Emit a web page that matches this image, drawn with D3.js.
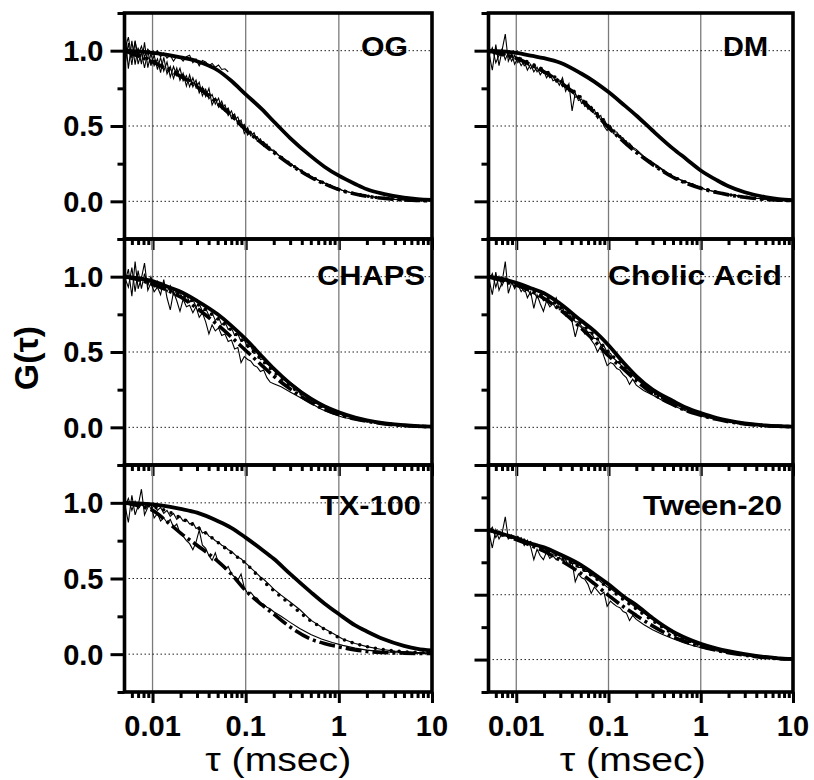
<!DOCTYPE html>
<html><head><meta charset="utf-8">
<script src="https://cdn.jsdelivr.net/npm/d3@7"></script>
<style>body{margin:0;background:#fff} svg{display:block;font-family:"Liberation Sans",Arial,sans-serif}</style>
</head><body><svg id="c" width="814" height="780"></svg>
<script>
// ---------------- data ----------------
const panelNames = ["OG", "DM", "CHAPS", "Cholic Acid", "TX-100", "Tween-20"];
const xMajor = [0.01, 0.1, 1, 10];
const xTickLabels = ["0.01", "0.1", "1", "10"];
const xMinor = [0.006,0.007,0.008,0.009, 0.02,0.03,0.04,0.05,0.06,0.07,0.08,0.09,
                0.2,0.3,0.4,0.5,0.6,0.7,0.8,0.9, 2,3,4,5,6,7,8,9];
const yMajorVals = [0, 0.5, 1.0];
const yTickLabels = ["0.0", "0.5", "1.0"];
const yMinorVals = [-0.25, 0.25, 0.75, 1.25];
const xTitle = "τ (msec)";
const yTitle = "G(τ)";

const tauFit = [0.005,0.007,0.01,0.015,0.02,0.03,0.05,0.07,0.1,0.15,0.2,0.3,0.5,0.7,1,1.5,2,3,5,7,10];
const tauRaw = [
 0.0050,0.0055,0.0060,0.0065,0.0070,0.0076,0.0082,0.0089,0.0096,0.0104,
 0.0113,0.0122,0.0132,0.0143,0.0155,0.0168,0.0182,0.0197,0.0213,0.0231,
 0.0250,0.0271,0.0293,0.0317,0.0343,0.0372,0.0403,0.0436,0.0472,0.0511,
 0.0553,0.0599,0.0649,0.0703,0.0761,0.0824,0.0892,0.0966,0.105,0.113,
 0.123,0.133,0.144,0.156,0.169,0.183,0.20,0.24,0.30,0.38,
 0.5,0.65,0.85,1.1,1.5,2.0,2.8,4.0,6.0,10];

// OG
const ogA = [1.0,0.995,0.985,0.97,0.955,0.93,0.87,0.80,0.71,0.61,0.53,0.42,0.30,0.23,0.17,0.115,0.08,0.05,0.025,0.015,0.01];
const ogB = [1.0,0.97,0.935,0.88,0.84,0.77,0.66,0.58,0.48,0.39,0.33,0.25,0.165,0.12,0.08,0.05,0.035,0.02,0.01,0.006,0.004];
const ogC = [1.0,0.965,0.925,0.87,0.83,0.76,0.65,0.57,0.475,0.385,0.325,0.245,0.16,0.117,0.078,0.049,0.034,0.02,0.01,0.006,0.004];
const ogRawA = [
 1.0,1.09,0.95,1.06,0.97,1.03,0.96,1.01,0.98,0.97,
 1.0,0.96,0.985,0.95,0.97,0.93,0.965,0.955,0.93,0.96,
 0.97,0.92,0.945,0.90,0.935,0.925,0.90,0.915,0.89,0.905,
 0.875,0.88,0.86];
const ogRawB = [
 0.88,1.05,0.905,1.067,0.91,0.99,0.885,0.997,0.90,0.97,
 0.875,0.955,0.865,0.925,0.825,0.895,0.835,0.883,0.80,0.835,
 0.76,0.82,0.755,0.79,0.70,0.745,0.68,0.71,0.645,0.685,
 0.615,0.64,0.57,0.60,0.54,0.56,0.495,0.51,0.44,0.465,
 0.425,0.43,0.39,0.395,0.37,0.35,0.33,0.29,0.25,0.21,
 0.165,0.13,0.10,0.072,0.05,0.035,0.022,0.013,0.008,0.004];
const ogRawC = [
 1.16,0.88,1.065,0.907,1.02,0.91,1.055,0.887,0.98,0.90,
 0.945,0.855,0.955,0.845,0.895,0.815,0.885,0.803,0.85,0.765,
 0.84,0.76,0.805,0.72,0.76,0.695,0.75,0.64,0.685,0.625,
 0.665,0.60,0.62,0.55,0.58,0.51,0.54,0.45,0.49,0.435,
 0.455,0.40,0.415,0.365,0.38,0.34,0.34,0.29,0.25,0.21,
 0.165,0.13,0.10,0.072,0.05,0.035,0.022,0.013,0.008,0.004];

// DM
const dmA = [1.0,0.995,0.985,0.965,0.95,0.92,0.85,0.795,0.725,0.635,0.57,0.47,0.35,0.28,0.205,0.14,0.10,0.06,0.028,0.015,0.007];
const dmB = [1.0,0.98,0.955,0.91,0.87,0.80,0.69,0.60,0.50,0.40,0.33,0.25,0.165,0.125,0.09,0.06,0.045,0.028,0.014,0.008,0.005];
const dmC = [1.0,0.975,0.95,0.90,0.86,0.79,0.68,0.59,0.49,0.39,0.325,0.245,0.16,0.12,0.087,0.058,0.043,0.027,0.013,0.008,0.005];
const dmRawB = [
 0.96,1.02,0.92,0.97,1.01,0.94,0.99,0.93,0.97,0.92,
 0.95,0.90,0.92,0.88,0.91,0.86,0.89,0.85,0.86,0.82,
 0.83,0.79,0.80,0.76,0.77,0.73,0.74,0.69,0.70,0.65,
 0.66,0.61,0.63,0.58,0.59,0.54,0.55,0.50,0.50,0.46,
 0.46,0.43,0.42,0.39,0.385,0.36,0.345,0.30,0.26,0.215,
 0.165,0.135,0.11,0.08,0.06,0.045,0.032,0.02,0.01,0.005];
const dmRawC = [
 1.0,0.87,1.04,0.90,1.0,1.11,0.93,0.98,0.91,0.95,
 0.90,0.93,0.87,0.91,0.86,0.89,0.84,0.87,0.82,0.85,
 0.80,0.81,0.77,0.82,0.73,0.78,0.60,0.72,0.67,0.68,
 0.63,0.64,0.60,0.61,0.55,0.57,0.50,0.47,0.50,0.45,
 0.44,0.42,0.41,0.37,0.375,0.35,0.335,0.295,0.255,0.21,
 0.163,0.133,0.108,0.08,0.06,0.045,0.032,0.02,0.01,0.005];

// CHAPS
const chA = [1.0,0.99,0.97,0.93,0.90,0.84,0.75,0.675,0.585,0.47,0.39,0.29,0.19,0.14,0.10,0.065,0.047,0.028,0.014,0.008,0.005];
const chB = [1.0,0.985,0.96,0.92,0.885,0.82,0.72,0.645,0.555,0.445,0.37,0.275,0.18,0.13,0.09,0.06,0.043,0.026,0.013,0.008,0.005];
const chC = [1.0,0.98,0.95,0.905,0.865,0.79,0.68,0.60,0.51,0.41,0.34,0.255,0.165,0.12,0.085,0.055,0.04,0.024,0.012,0.007,0.004];
const chRawB = [
 1.0,0.93,1.06,0.90,1.04,0.92,1.02,0.94,1.0,0.93,
 0.97,0.92,0.95,0.90,0.94,0.88,0.91,0.89,0.86,0.88,
 0.83,0.85,0.80,0.82,0.77,0.79,0.74,0.76,0.71,0.73,
 0.68,0.70,0.65,0.66,0.61,0.62,0.57,0.58,0.53,0.54,
 0.49,0.50,0.45,0.455,0.42,0.41,0.38,0.345,0.30,0.25,
 0.185,0.145,0.11,0.08,0.06,0.045,0.03,0.018,0.009,0.005];
const chRawC = [
 0.95,1.05,0.87,1.10,0.92,0.99,1.09,0.91,0.96,0.90,
 0.93,0.88,0.98,0.86,0.78,0.90,0.84,0.77,0.85,0.80,
 0.81,0.76,0.80,0.73,0.76,0.70,0.62,0.68,0.64,0.66,
 0.61,0.62,0.57,0.58,0.52,0.53,0.43,0.47,0.45,0.44,
 0.41,0.40,0.37,0.38,0.33,0.30,0.29,0.27,0.235,0.20,
 0.16,0.12,0.09,0.067,0.05,0.038,0.025,0.016,0.008,0.004];

// Cholic Acid
const caA = [1.0,0.985,0.96,0.92,0.89,0.82,0.71,0.64,0.545,0.42,0.34,0.25,0.175,0.13,0.095,0.062,0.045,0.027,0.013,0.008,0.005];
const caB = [1.0,0.98,0.955,0.91,0.87,0.80,0.69,0.61,0.50,0.40,0.32,0.235,0.16,0.12,0.087,0.057,0.041,0.025,0.012,0.007,0.004];
const caC = [1.0,0.975,0.945,0.90,0.855,0.78,0.66,0.575,0.475,0.38,0.31,0.225,0.15,0.11,0.08,0.053,0.038,0.023,0.011,0.007,0.004];
const caRawB = [
 0.97,1.02,0.93,1.0,0.94,0.99,0.95,0.97,0.92,0.96,
 0.93,0.90,0.92,0.88,0.90,0.86,0.88,0.84,0.85,0.82,
 0.82,0.79,0.80,0.76,0.77,0.73,0.74,0.70,0.70,0.67,
 0.66,0.63,0.63,0.59,0.59,0.55,0.54,0.50,0.49,0.46,
 0.44,0.42,0.40,0.38,0.36,0.345,0.32,0.28,0.24,0.20,
 0.16,0.125,0.097,0.073,0.055,0.04,0.026,0.016,0.008,0.004];
const caRawC = [
 1.0,0.88,1.03,0.91,0.96,1.10,0.89,0.96,0.93,0.95,
 0.90,0.93,0.86,0.90,0.79,0.88,0.82,0.77,0.84,0.80,
 0.82,0.86,0.78,0.80,0.74,0.77,0.70,0.60,0.68,0.66,
 0.62,0.63,0.58,0.55,0.50,0.54,0.47,0.41,0.43,0.42,
 0.39,0.38,0.35,0.33,0.285,0.32,0.28,0.245,0.215,0.18,
 0.145,0.115,0.09,0.068,0.05,0.037,0.024,0.015,0.008,0.004];

// TX-100
const txA = [1.0,0.997,0.99,0.975,0.96,0.935,0.88,0.835,0.77,0.69,0.63,0.53,0.41,0.335,0.265,0.19,0.15,0.10,0.055,0.035,0.025];
const txB = [1.0,0.995,0.975,0.94,0.90,0.84,0.74,0.67,0.60,0.49,0.42,0.33,0.22,0.165,0.11,0.07,0.05,0.03,0.016,0.011,0.008];
const txC = [1.0,0.98,0.95,0.865,0.80,0.72,0.615,0.53,0.42,0.325,0.265,0.18,0.10,0.07,0.048,0.028,0.018,0.011,0.007,0.005,0.004];
const txRawB = [
 0.97,1.03,0.95,1.01,0.96,0.99,0.97,1.0,0.96,0.98,
 0.95,0.97,0.93,0.95,0.91,0.93,0.89,0.91,0.88,0.89,
 0.86,0.87,0.83,0.84,0.80,0.81,0.78,0.77,0.75,0.74,
 0.72,0.71,0.69,0.68,0.66,0.64,0.63,0.61,0.59,0.57,
 0.55,0.53,0.51,0.495,0.475,0.455,0.43,0.39,0.345,0.295,
 0.225,0.18,0.14,0.10,0.07,0.05,0.033,0.02,0.012,0.008];
const txRawC = [
 1.0,0.87,1.05,0.92,0.98,1.09,0.92,0.97,0.99,0.90,
 0.93,0.88,0.90,0.87,0.89,0.84,0.86,0.80,0.78,0.75,
 0.73,0.69,0.74,0.82,0.72,0.70,0.65,0.62,0.67,0.60,
 0.59,0.56,0.58,0.53,0.51,0.49,0.53,0.44,0.40,0.41,
 0.38,0.37,0.34,0.33,0.31,0.30,0.28,0.25,0.21,0.17,
 0.13,0.10,0.077,0.058,0.04,0.027,0.017,0.011,0.007,0.005];

// Tween-20
const twA = [1.0,0.97,0.935,0.89,0.865,0.81,0.73,0.66,0.58,0.48,0.42,0.32,0.215,0.165,0.122,0.085,0.065,0.042,0.02,0.01,0.005];
const twB = [1.0,0.965,0.93,0.885,0.85,0.79,0.705,0.635,0.55,0.455,0.39,0.30,0.20,0.15,0.11,0.076,0.058,0.037,0.018,0.009,0.004];
const twC = [1.0,0.965,0.925,0.875,0.835,0.765,0.665,0.585,0.495,0.40,0.34,0.26,0.175,0.135,0.10,0.07,0.053,0.034,0.016,0.008,0.004];
const twRawB = [
 0.98,1.02,0.94,0.99,0.95,0.97,0.94,0.96,0.93,0.95,
 0.92,0.93,0.90,0.91,0.88,0.89,0.86,0.87,0.84,0.85,
 0.82,0.82,0.80,0.80,0.77,0.77,0.74,0.74,0.71,0.71,
 0.68,0.68,0.65,0.64,0.62,0.60,0.58,0.56,0.55,0.53,
 0.51,0.50,0.48,0.46,0.44,0.42,0.40,0.36,0.31,0.26,
 0.20,0.165,0.13,0.10,0.075,0.058,0.04,0.025,0.012,0.005];
const twRawC = [
 1.0,0.86,1.0,0.93,0.97,1.10,0.93,0.96,0.95,0.92,
 0.94,0.88,0.92,0.87,0.77,0.85,0.80,0.77,0.83,0.78,
 0.80,0.77,0.79,0.76,0.77,0.72,0.75,0.60,0.66,0.63,
 0.62,0.58,0.51,0.56,0.53,0.50,0.52,0.41,0.45,0.43,
 0.41,0.40,0.37,0.36,0.30,0.34,0.31,0.27,0.23,0.195,
 0.16,0.13,0.105,0.085,0.066,0.05,0.035,0.02,0.01,0.004];

// ---------------- layout ----------------
const cols = [[124.5, 432], [488.5, 793]];
const rows = [[13, 239], [239, 465], [465, 692]];
const panels = [
  {name: panelNames[0], c:0, r:0, yMax:1.25, A:ogA, B:ogB, C:ogC, rawA:ogRawA, rawB:ogRawB, rawC:ogRawC, lx:361, lw:47, ly:56},
  {name: panelNames[1], c:1, r:0, yMax:1.25, A:dmA, B:dmB, C:dmC, rawB:dmRawB, rawC:dmRawC, lx:723, lw:45, ly:56},
  {name: panelNames[2], c:0, r:1, yMax:1.25, A:chA, B:chB, C:chC, rawB:chRawB, rawC:chRawC, lx:317, lw:108, ly:285},
  {name: panelNames[3], c:1, r:1, yMax:1.25, A:caA, B:caB, C:caC, rawB:caRawB, rawC:caRawC, lx:608, lw:174, ly:285},
  {name: panelNames[4], c:0, r:2, yMax:1.25, A:txA, B:txB, C:txC, rawB:txRawB, rawC:txRawC, lx:320, lw:101, ly:515},
  {name: panelNames[5], c:1, r:2, yMax:1.5, A:twA, B:twB, C:twC, rawB:twRawB, rawC:twRawC, lx:643, lw:139, ly:515},
];

const svg = d3.select("#c");
svg.append("rect").attr("width", 814).attr("height", 780).attr("fill", "#fff");
const defs = svg.append("defs");

panels.forEach((p, i) => {
  const [x0, x1] = cols[p.c];
  const [y0, y1] = rows[p.r];
  const x = d3.scaleLog().domain([0.005, 10]).range([x0, x1]);
  const y = d3.scaleLinear().domain([-0.25, p.yMax]).range([y1, y0]);
  const g = svg.append("g");

  defs.append("clipPath").attr("id", "clip" + i)
    .append("rect").attr("x", x0).attr("y", y0).attr("width", x1 - x0).attr("height", y1 - y0);

  // vertical grid lines
  g.selectAll(".vg").data(xMajor.slice(0, 3)).join("line")
    .attr("x1", d => x(d)).attr("x2", d => x(d)).attr("y1", y0).attr("y2", y1)
    .attr("stroke", "#7a7a7a").attr("stroke-width", 1.3);
  // horizontal dotted grid lines
  g.selectAll(".hg").data(yMajorVals).join("line")
    .attr("x1", x0).attr("x2", x1).attr("y1", d => y(d)).attr("y2", d => y(d))
    .attr("stroke", "#222").attr("stroke-width", 1).attr("stroke-dasharray", "1.5,2.5");

  const dg = g.append("g").attr("clip-path", `url(#clip${i})`);
  const lin = d3.line().x(d => x(d[0])).y(d => y(d[1]));
  const smooth = d3.line().x(d => x(d[0])).y(d => y(d[1])).curve(d3.curveMonotoneX);
  const zipRaw = arr => arr.map((v, k) => [tauRaw[k], v]);
  const zipFit = arr => arr.map((v, k) => [tauFit[k], v]);

  // raw data (thin)
  [p.rawC, p.rawB, p.rawA].forEach(r => {
    if (!r) return;
    dg.append("path").attr("d", lin(zipRaw(r)))
      .attr("fill", "none").attr("stroke", "#000").attr("stroke-width", 1.1)
      .attr("stroke-linejoin", "miter");
  });
  // fit C: thick dash-dot
  dg.append("path").attr("d", smooth(zipFit(p.C)))
    .attr("fill", "none").attr("stroke", "#000").attr("stroke-width", 3.6)
    .attr("stroke-dasharray", "16,4,3,4");
  // fit B: dotted
  dg.append("path").attr("d", smooth(zipFit(p.B)))
    .attr("fill", "none").attr("stroke", "#000").attr("stroke-width", 3.6)
    .attr("stroke-linecap", "round").attr("stroke-dasharray", "0,8");
  // fit A: thick solid
  dg.append("path").attr("d", smooth(zipFit(p.A)))
    .attr("fill", "none").attr("stroke", "#000").attr("stroke-width", 3.8);

  // x axes (ticks on bottom edge, pointing down)
  const styleAx = s => { s.select(".domain").remove(); s.selectAll("line").attr("stroke", "#000").attr("stroke-width", 3); };
  g.append("g").attr("transform", `translate(0,${y1})`)
    .call(d3.axisBottom(x).tickValues(xMinor).tickSize(6).tickFormat("")).call(styleAx);
  g.append("g").attr("transform", `translate(0,${y1})`)
    .call(d3.axisBottom(x).tickValues(xMajor).tickSize(11).tickFormat("")).call(styleAx);
  // y axes (left, pointing out)
  const yMaj = p.yMax > 1.3 ? yMajorVals.concat([1.5]) : yMajorVals;
  g.append("g").attr("transform", `translate(${x0},0)`)
    .call(d3.axisLeft(y).tickValues(yMinorVals).tickSize(7).tickFormat("")).call(styleAx);
  g.append("g").attr("transform", `translate(${x0},0)`)
    .call(d3.axisLeft(y).tickValues(yMaj).tickSize(14).tickFormat("")).call(styleAx);

  // frame
  g.append("rect").attr("x", x0).attr("y", y0).attr("width", x1 - x0).attr("height", y1 - y0)
    .attr("fill", "none").attr("stroke", "#000").attr("stroke-width", 3.6);

  // y tick labels (left column)
  if (p.c === 0) {
    g.selectAll(".yl").data(yMajorVals).join("text")
      .attr("x", x0 - 21).attr("y", d => y(d)).attr("dy", "0.36em")
      .attr("text-anchor", "end").attr("font-size", 29).attr("font-weight", "bold")
      .text((d, k) => yTickLabels[k]);
  }
  // x tick labels (bottom row)
  if (p.r === 2) {
    g.selectAll(".xl").data(xMajor).join("text")
      .attr("x", d => x(d)).attr("y", 736)
      .attr("text-anchor", "middle").attr("font-size", 29).attr("font-weight", "bold")
      .text((d, k) => xTickLabels[k]);
    g.append("text").attr("x", (x0 + x1) / 2 - (p.c ? 8 : 0)).attr("y", 771)
      .attr("text-anchor", "middle").attr("font-size", 34)
      .attr("textLength", 146).attr("lengthAdjust", "spacingAndGlyphs")
      .text(xTitle);
  }
  // panel label
  g.append("text").attr("x", p.lx).attr("y", p.ly)
    .attr("font-size", 28).attr("font-weight", "bold")
    .attr("textLength", p.lw).attr("lengthAdjust", "spacingAndGlyphs")
    .text(p.name);
});

// y title
svg.append("text").attr("transform", "translate(38,358) rotate(-90)")
  .attr("text-anchor", "middle").attr("font-size", 34).attr("font-weight", "bold")
  .text(yTitle);
</script>
</body></html>
